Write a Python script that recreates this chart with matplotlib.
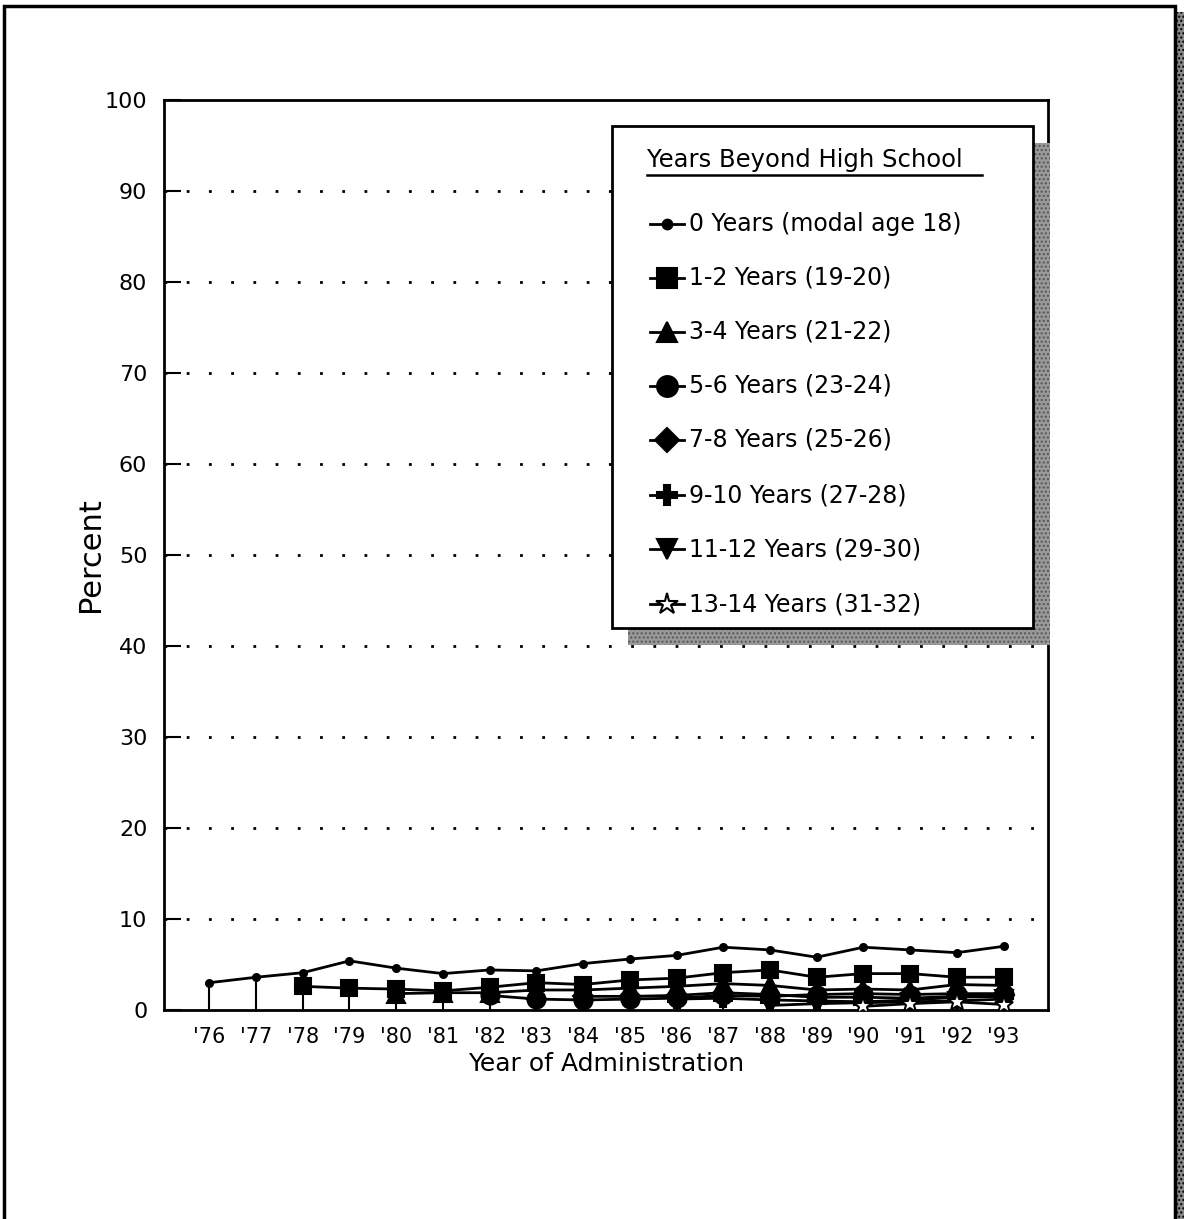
import matplotlib
matplotlib.use("Agg")
import matplotlib.pyplot as plt
from matplotlib.patches import Rectangle
from matplotlib.lines import Line2D
import numpy as np

# data (percent)
years = ["'76", "'77", "'78", "'79", "'80", "'81", "'82", "'83", "'84",
         "'85", "'86", "'87", "'88", "'89", "'90", "'91", "'92", "'93"]

labels = ["0 Years (modal age 18)", "1-2 Years (19-20)", "3-4 Years (21-22)",
          "5-6 Years (23-24)", "7-8 Years (25-26)", "9-10 Years (27-28)",
          "11-12 Years (29-30)", "13-14 Years (31-32)"]

# each cohort group enters the panel two years after the previous one
start_idx = [0, 2, 4, 6, 8, 10, 12, 14]

y0 = [3.0, 3.6, 4.1, 5.4, 4.6, 4.0, 4.4, 4.3, 5.1, 5.6, 6.0, 6.9, 6.6, 5.8, 6.9, 6.6, 6.3, 7.0]
y1 = [2.6, 2.4, 2.3, 2.1, 2.5, 3.0, 2.8, 3.3, 3.5, 4.1, 4.4, 3.6, 4.0, 4.0, 3.6, 3.6]
y2 = [1.8, 1.9, 1.9, 2.2, 2.2, 2.4, 2.6, 2.9, 2.7, 2.2, 2.3, 2.2, 2.8, 2.7]
y3 = [1.6, 1.2, 1.1, 1.2, 1.3, 1.6, 1.5, 1.7, 1.8, 1.7, 1.8, 1.8]
y4 = [1.5, 1.5, 1.6, 1.9, 1.7, 1.4, 1.4, 1.3, 1.5, 1.6]
y5 = [1.2, 1.3, 1.1, 1.0, 0.9, 1.1, 1.4, 1.5]
y6 = [0.5, 0.7, 0.8, 0.9, 1.0, 1.2]
y7 = [0.4, 0.7, 0.9, 0.6]
series = [y0, y1, y2, y3, y4, y5, y6, y7]

markers = ['o', 's', '^', 'o', 'D', 'P', 'v', '*']
msizes = [5, 12, 13, 13, 10, 13, 13, 14]
mfaces = ['k', 'k', 'k', 'k', 'k', 'k', 'k', 'white']

plt.rcParams['font.family'] = 'DejaVu Sans'

W, H = 1184, 1219
fig = plt.figure(figsize=(W / 100, H / 100), dpi=100)

def fx(px):
    return px / W

def fy(py):
    return 1 - py / H

ax = fig.add_axes([fx(164), fy(1010), fx(1048) - fx(164), fy(100) - fy(1010)])

x = np.arange(len(years))
for i, ys in enumerate(series):
    xs = x[start_idx[i]:start_idx[i] + len(ys)]
    ax.plot(xs, ys, color='k', lw=2, marker=markers[i], ms=msizes[i],
            mfc=mfaces[i], mec='k', mew=1.5, zorder=3)

ax.set_xlim(-0.97, 17.95)
ax.set_ylim(0, 100)
ax.set_xticks(x)
ax.set_xticklabels(years, fontsize=15)
ax.set_yticks(np.arange(0, 101, 10))
ax.set_yticklabels([str(v) for v in range(0, 101, 10)], fontsize=16)
ax.tick_params(axis='x', direction='in', length=20, width=1.5, pad=12)
ax.tick_params(axis='y', direction='in', length=12, width=1.5, pad=12)
for s in ax.spines.values():
    s.set_linewidth(2)

for v in range(10, 100, 10):
    ax.axhline(v, color='k', lw=2, ls=(0, (1, 7)), zorder=1)

ax.set_ylabel('Percent', fontsize=22, labelpad=0)
ax.set_xlabel('Year of Administration', fontsize=18, labelpad=4)

# outer frame with shaded edge on the right
fig.add_artist(Rectangle((fx(1175), fy(1225)), fx(1184) - fx(1175), fy(12) - fy(1225),
                         transform=fig.transFigure, facecolor='#888888', hatch='....',
                         edgecolor='k', lw=0))
fig.add_artist(Rectangle((fx(4), fy(1225)), fx(1175) - fx(4), fy(6) - fy(1225),
                         transform=fig.transFigure, facecolor='none',
                         edgecolor='k', lw=2.5))

# legend box with shadow
fig.add_artist(Rectangle((fx(628), fy(645)), fx(1050) - fx(628), fy(143) - fy(645),
                         transform=fig.transFigure, facecolor='#999999', hatch='....',
                         edgecolor='#555555', lw=0, zorder=5))
fig.add_artist(Rectangle((fx(612), fy(628)), fx(1033) - fx(612), fy(126) - fy(628),
                         transform=fig.transFigure, facecolor='white',
                         edgecolor='k', lw=2, zorder=6))
fig.text(fx(647), fy(160), 'Years Beyond High School', fontsize=17.5,
         va='center', ha='left', zorder=7)
fig.add_artist(Line2D([fx(647), fx(982)], [fy(175), fy(175)], color='k', lw=1.8,
                      transform=fig.transFigure, zorder=7))

entry_y = [224, 278, 332, 386, 440, 495, 549, 604]
for i, lab in enumerate(labels):
    yy = fy(entry_y[i])
    fig.add_artist(Line2D([fx(650), fx(684)], [yy, yy], color='k', lw=2,
                          transform=fig.transFigure, zorder=7))
    fig.add_artist(Line2D([fx(667)], [yy], marker=markers[i], ms=msizes[i] + 2,
                          mfc=mfaces[i], mec='k', mew=1.5, color='k',
                          transform=fig.transFigure, zorder=8))
    fig.text(fx(689), yy, lab, fontsize=17, va='center', ha='left', zorder=7)

fig.savefig('out.png', dpi=100)
